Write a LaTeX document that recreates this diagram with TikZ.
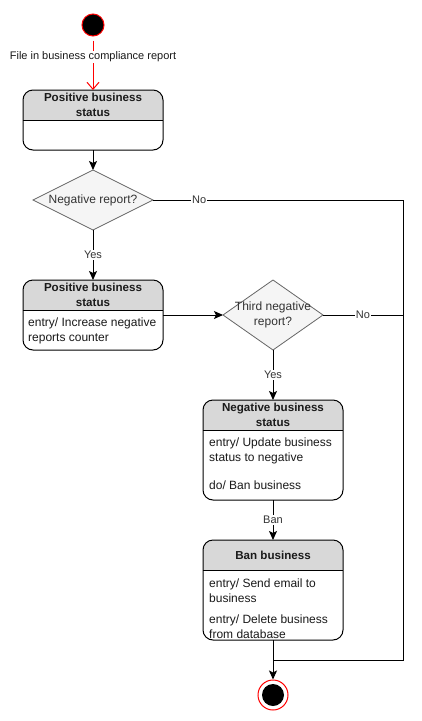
\documentclass[tikz,border=0pt]{standalone}
\usepackage{fontspec}
\setmainfont{Liberation Sans}
\usetikzlibrary{arrows.meta,shapes.geometric,calc}
\definecolor{hdrgray}{HTML}{D8D8D8}
\definecolor{dfill}{HTML}{F5F5F5}
\definecolor{dline}{HTML}{666666}
\definecolor{dtext}{HTML}{333333}
\definecolor{txt}{HTML}{1A1A1A}

% State box with a grey title band: #1 name, #2 centre x, #3 top y, #4 height
\newcommand\drawstate[4]{%
  \node[statebox, minimum height=#4pt, anchor=north] (#1) at (#2,-#3) {};
  \begin{scope}
    \clip[rounded corners=10pt] (#1.north west) rectangle (#1.south east);
    \fill[hdrgray] (#1.north west) rectangle ($(#1.north east)+(0,-30)$);
  \end{scope}
  \draw[line width=1pt, rounded corners=10pt] (#1.north west) rectangle (#1.south east);
  \draw[line width=1pt] ($(#1.north west)+(0,-30)$) -- ($(#1.north east)+(0,-30)$);
}

\begin{document}
\begin{tikzpicture}[x=1pt, y=1pt,
  font=\fontsize{12}{15}\selectfont,
  statebox/.style={rectangle, minimum width=140pt, inner sep=0pt, outer sep=0pt},
  title/.style={font=\fontsize{11.6}{15}\bfseries\selectfont, align=center, text=txt},
  body/.style={anchor=west, align=left, inner sep=0pt, text=txt},
  decision/.style={diamond, draw=dline, fill=dfill, line width=0.8pt,
    inner sep=0pt, outer sep=0pt},
  dtxt/.style={align=center, text=dtext, inner sep=0pt},
  flow/.style={draw, line width=1pt, -{Stealth[length=9pt, width=8pt, inset=2pt]}},
  plain/.style={draw, line width=1pt},
  lbl/.style={fill=white, inner sep=1pt, text=dtext, font=\fontsize{11}{13}\selectfont}
]
\useasboundingbox (0,0) rectangle (422,-721);
\fill[white] (0,0) rectangle (422,-721);

% initial state
\node[circle, draw=red, fill=black, line width=1pt, minimum size=22pt, inner sep=0pt] (start) at (93,-25) {};

% states
\drawstate{s1}{93}{90}{60}
\node[title] at ($(s1.north)+(0,-15)$) {Positive business\\status};

\drawstate{s2}{93}{280}{70}
\node[title] at ($(s2.north)+(0,-15)$) {Positive business\\status};
\node[body] at ($(s2.north west)+(5,-50.5)$) {entry/ Increase negative\\reports counter};

\drawstate{s3}{273}{400}{100}
\node[title] at ($(s3.north)+(0,-15)$) {Negative business\\status};
\node[body] at ($(s3.north west)+(6,-50.5)$) {entry/ Update business\\status to negative};
\node[body] at ($(s3.north west)+(6,-85)$) {do/ Ban business};

\drawstate{s4}{273}{540}{100}
\node[title] at ($(s4.north)+(0,-15)$) {Ban business};
\node[body] at ($(s4.north west)+(6,-50.5)$) {entry/ Send email to\\business};
\node[body] at ($(s4.north west)+(6,-87)$) {entry/ Delete business\\from database};

% decisions
\node[decision, minimum width=120pt, minimum height=60pt] (d1) at (93,-200) {};
\node[dtxt] at (d1.center) {Negative report?};
\node[decision, minimum width=100pt, minimum height=70pt] (d2) at (273,-315) {};
\node[dtxt] at (d2.center) {Third negative\\report?};

% final state
\node[circle, draw=red, fill=white, line width=1pt, minimum size=30pt, inner sep=0pt] (final) at (273,-695) {};
\fill[black] (final.center) circle (11pt);

% routing points on the right-hand return line
\coordinate (r1) at (403,-200);
\coordinate (r2) at (403,-660);
\coordinate (j) at (273,-660);

% transitions
\draw[red, line width=1pt, shorten <=4pt, -{Straight Barb[length=7pt, width=12pt]}] (start) -- (s1)
  node[pos=0.38, lbl, text=txt] {File in business compliance report};
\draw[flow] (s1) -- (d1);
\draw[flow] (d1) -- node[lbl, pos=0.5] {Yes} (s2);
\draw[flow] (s2.east |- d2.west) -- (d2.west);
\draw[flow] (d2) -- node[lbl, pos=0.5] {Yes} (s3);
\draw[flow] (s3) -- node[lbl, pos=0.5] {Ban} (s4);
\draw[plain] (d1.east) -- node[lbl, pos=0.185] {No} (r1) -- (r2) -- (j);
\draw[plain] (d2.east) -- node[lbl, pos=0.5] {No} (d2.east -| r1);
\draw[flow] (s4) -- (final);
\end{tikzpicture}
\end{document}
